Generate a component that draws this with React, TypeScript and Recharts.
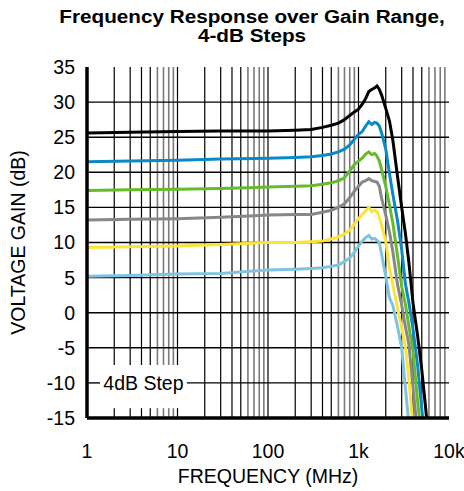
import { LineChart, Line, XAxis, YAxis, ReferenceLine, ReferenceArea } from "recharts";

// frequency points (MHz) shared by all curves
const FREQS = [
  1, 3, 10, 30, 100, 200, 300, 400, 500, 600, 700, 800, 900, 1000, 1100, 1200,
  1300, 1400, 1500, 1600, 1700, 1800, 2000, 2200, 2400, 2700, 3000, 3300, 3600,
  4000, 4500, 5000, 5500, 6000,
];

// voltage gain (dB), one array per gain setting
const GAIN_25 = [
  25.6, 25.7, 25.8, 25.9, 25.9, 26.0, 26.1, 26.4, 26.7, 27.0, 27.5, 28.1, 28.6,
  29.0, 29.7, 30.5, 31.5, 31.8, 32.0, 32.3, 31.8, 31.0, 29.1, 27.3, 24.5, 19.4,
  15.0, 11.3, 7.2, 1.4, -3.3, -8.1, -13.4, -18.4,
];
const GAIN_21 = [
  21.5, 21.6, 21.7, 21.9, 22.0, 22.1, 22.2, 22.4, 22.6, 22.9, 23.3, 23.9, 24.7,
  25.4, 25.8, 26.6, 27.2, 26.8, 27.1, 27.0, 26.6, 25.6, 23.3, 19.8, 16.8, 13.1,
  9.0, 4.1, 1.5, -2.3, -7.5, -13.7, -19.0, null,
];
const GAIN_17 = [
  17.4, 17.5, 17.6, 17.7, 17.9, 18.0, 18.1, 18.3, 18.5, 18.8, 19.2, 20.2, 21.1,
  21.6, 22.0, 22.6, 22.9, 22.5, 22.7, 22.3, 21.6, 20.4, 18.0, 15.3, 12.7, 8.1,
  3.7, 1.2, -1.9, -5.5, -12.6, -18.5, null, null,
];
const GAIN_13 = [
  13.2, 13.3, 13.4, 13.6, 13.9, 14.0, 14.0, 14.3, 14.6, 15.0, 15.5, 16.4, 17.3,
  18.0, 18.6, 18.8, 19.1, 18.8, 18.7, 18.6, 18.0, 16.3, 13.9, 11.5, 8.6, 4.0,
  1.1, -2.0, -4.5, -10.5, -17.5, null, null, null,
];
const GAIN_9 = [
  9.3, 9.4, 9.5, 9.7, 10.0, 10.0, 10.1, 10.2, 10.5, 10.8, 11.2, 11.8, 12.6,
  13.4, 14.0, 14.5, 15.0, 14.4, 14.6, 14.4, 13.6, 12.4, 10.2, 6.3, 3.9, 0.7,
  -2.2, -4.9, -9.4, -16.2, null, null, null, null,
];
const GAIN_5 = [
  5.2, 5.3, 5.5, 5.6, 6.1, 6.2, 6.3, 6.4, 6.6, 6.8, 7.3, 7.8, 8.6, 9.5, 10.2,
  10.7, 11.0, 10.5, 10.6, 10.3, 10.0, 8.3, 5.2, 2.1, 1.0, -2.0, -5.0, -10.7,
  -15.8, null, null, null, null, null,
];

const X_TICKS = [1, 10, 100, 1000, 10000];
const Y_TICKS = [-15, -10, -5, 0, 5, 10, 15, 20, 25, 30, 35];
const DECADES = [1, 10, 100, 1000];
const MULTS = [2, 3, 4, 5, 6, 7, 8, 9];

// blank patch behind the "4dB Step" note (MHz / dB)
const NOTE_X = [1.39, 12.7];
const NOTE_Y = [-13.6, -7.45];

const SERIES = [
  { key: "g25", values: GAIN_25, color: "#000000" },
  { key: "g21", values: GAIN_21, color: "#0a89c6" },
  { key: "g17", values: GAIN_17, color: "#66bb2a" },
  { key: "g13", values: GAIN_13, color: "#878787" },
  { key: "g9", values: GAIN_9, color: "#fde336" },
  { key: "g5", values: GAIN_5, color: "#7fc3e3" },
];

const data = FREQS.map((f, i) => {
  const row: Record<string, number | null> = { f };
  SERIES.forEach((s) => (row[s.key] = s.values[i]));
  return row;
});

const FONT = "'Liberation Sans', Arial, sans-serif";
const fmtFreq = (v: number) => (v >= 1000 ? `${v / 1000}k` : `${v}`);

function YTitle({ viewBox }: any) {
  const x = viewBox.x + 18;
  const y = viewBox.y + viewBox.height / 2;
  return (
    <text
      x={x}
      y={y}
      transform={`rotate(-90 ${x} ${y})`}
      textAnchor="middle"
      dominantBaseline="central"
      fontSize={19.5}
      fontFamily={FONT}
      fill="#000"
    >
      VOLTAGE GAIN (dB)
    </text>
  );
}

// vertical grid line, broken where the note sits
function vLines(v: number, stroke: string, width: number) {
  const inNote = v > NOTE_X[0] && v < NOTE_X[1];
  const segs = inNote
    ? [
        [-15, NOTE_Y[0]],
        [NOTE_Y[1], 35],
      ]
    : [[-15, 35]];
  return segs.map(([a, b], i) => (
    <ReferenceLine
      key={`v${v}-${i}`}
      segment={[
        { x: v, y: a },
        { x: v, y: b },
      ]}
      stroke={stroke}
      strokeWidth={width}
    />
  ));
}

function hLines(v: number) {
  const inNote = v > NOTE_Y[0] && v < NOTE_Y[1];
  const segs = inNote
    ? [
        [1, NOTE_X[0]],
        [NOTE_X[1], 10000],
      ]
    : [[1, 10000]];
  return segs.map(([a, b], i) => (
    <ReferenceLine
      key={`h${v}-${i}`}
      segment={[
        { x: a, y: v },
        { x: b, y: v },
      ]}
      stroke="#000"
      strokeWidth={1.4}
    />
  ));
}

export default function App() {
  return (
    <div
      style={{
        position: "absolute",
        left: 0,
        top: 0,
        width: 464,
        height: 491,
        background: "#fff",
        fontFamily: FONT,
      }}
    >
      <div
        style={{
          position: "absolute",
          left: 0,
          width: 504,
          top: 8,
          textAlign: "center",
          fontWeight: "bold",
          fontSize: 18,
          lineHeight: "19px",
          color: "#000",
        }}
      >
        <div style={{ transform: "scaleX(1.15)" }}>Frequency Response over Gain Range,</div>
        <div style={{ transform: "scaleX(1.15)" }}>4-dB Steps</div>
      </div>

      <LineChart
        width={464}
        height={491}
        data={data}
        margin={{ top: 67, right: 15, bottom: 13, left: 0 }}
      >
        {/* log grid: minor lines per decade, then decade lines */}
        {DECADES.flatMap((d) =>
          MULTS.flatMap((m) =>
            vLines(m * d, m >= 6 ? "#7a7a7a" : "#000", m >= 6 ? 1.6 : 1.2)
          )
        )}
        {X_TICKS.slice(1, -1).flatMap((v) => vLines(v, "#000", 1.2))}
        {Y_TICKS.slice(1, -1).flatMap((v) => hLines(v))}

        <ReferenceArea
          x1={NOTE_X[0]}
          x2={NOTE_X[1]}
          y1={NOTE_Y[0]}
          y2={NOTE_Y[1]}
          fill="#fff"
          fillOpacity={0}
          stroke="none"
          label={{
            value: "4dB Step",
            position: "insideTop",
            offset: 11,
            fill: "#000",
            fontSize: 19.5,
            fontFamily: FONT,
          }}
        />

        <XAxis
          dataKey="f"
          type="number"
          scale="log"
          domain={[1, 10000]}
          ticks={X_TICKS}
          tickFormatter={fmtFreq}
          allowDataOverflow
          height={60}
          tickLine={false}
          tickSize={6}
          tickMargin={20}
          tick={{ fill: "#000", fontSize: 19.5, fontFamily: FONT }}
          axisLine={{ stroke: "#000", strokeWidth: 3.5 }}
          label={{
            value: "FREQUENCY (MHz)",
            position: "insideBottom",
            offset: -5,
            fill: "#000",
            fontSize: 19.5,
            fontFamily: FONT,
          }}
        />
        <XAxis
          xAxisId="top"
          orientation="top"
          dataKey="f"
          type="number"
          scale="log"
          domain={[1, 10000]}
          allowDataOverflow
          height={0}
          tick={false}
          tickLine={false}
          axisLine={{ stroke: "#000", strokeWidth: 3.5 }}
        />
        <YAxis
          type="number"
          domain={[-15, 35]}
          ticks={Y_TICKS}
          allowDataOverflow
          width={87}
          tickLine={false}
          tickSize={6}
          tickMargin={6}
          tick={{ fill: "#000", fontSize: 19.5, fontFamily: FONT }}
          axisLine={{ stroke: "#000", strokeWidth: 3.5 }}
          label={{ content: YTitle }}
        />
        <YAxis
          yAxisId="right"
          orientation="right"
          type="number"
          domain={[-15, 35]}
          width={0}
          tick={false}
          tickLine={false}
          axisLine={{ stroke: "#000", strokeWidth: 3.5 }}
        />

        {SERIES.map((s) => (
          <Line
            key={s.key}
            dataKey={s.key}
            type="linear"
            stroke={s.color}
            strokeWidth={3}
            dot={false}
            activeDot={false}
            isAnimationActive={false}
          />
        ))}
      </LineChart>
    </div>
  );
}
